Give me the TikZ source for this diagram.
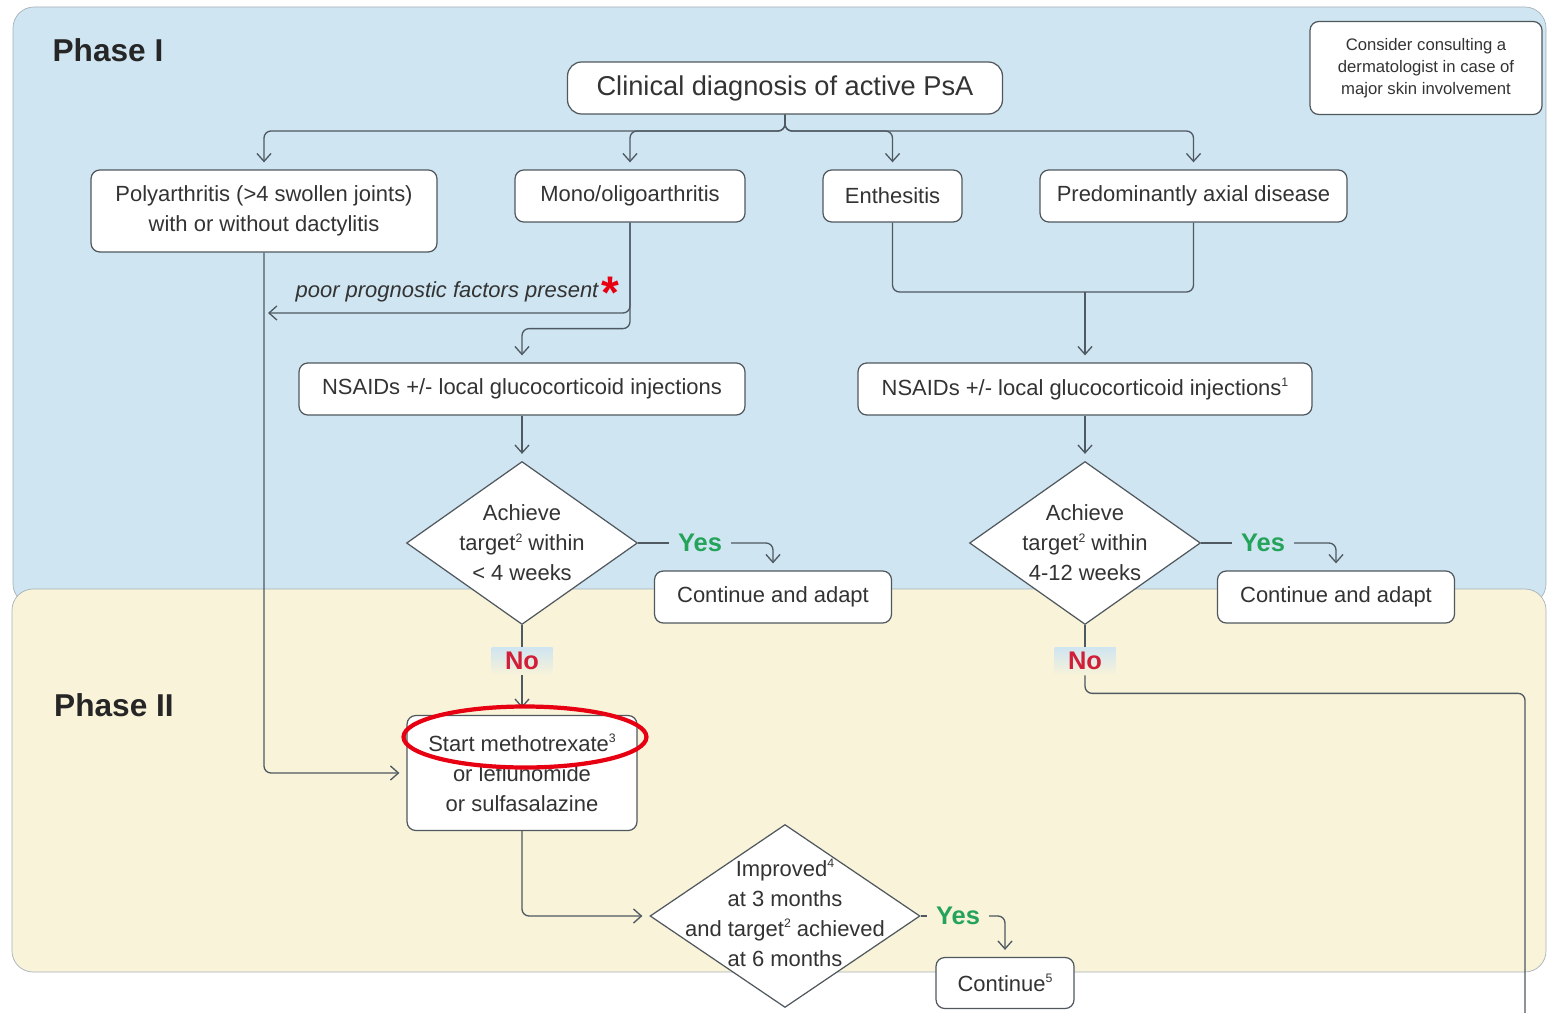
\documentclass[tikz,border=0pt]{standalone}
\usepackage{fontspec}
\setmainfont{Liberation Sans}
\usetikzlibrary{positioning,shapes.geometric,arrows.meta}
\definecolor{phaseblue}{HTML}{CFE5F1}
\definecolor{phasebeige}{HTML}{F8F3D9}
\definecolor{panelline}{HTML}{A7B3BA}
\definecolor{flowline}{HTML}{4E5961}
\definecolor{boxline}{HTML}{50585E}
\definecolor{textgray}{HTML}{333333}
\definecolor{yesgreen}{HTML}{24A35A}
\definecolor{nored}{HTML}{D11F3A}
\definecolor{markred}{HTML}{E60012}
\newcommand{\fnref}[1]{\raisebox{0.75ex}{\fontsize{7}{7}\selectfont #1}}

\begin{document}
\begin{tikzpicture}[x=0.02cm, y=-0.02cm,
  every node/.style={font=\fontsize{12.5}{17}\selectfont, text=textgray},
  box/.style={draw=boxline, fill=white, rounded corners=5pt, line width=0.7pt, align=center, inner sep=0pt, minimum height=1.04cm},
  decision/.style={draw=boxline, fill=white, diamond, line width=0.7pt, inner sep=0pt, minimum width=4.62cm, minimum height=3.26cm},
  dectext/.style={align=center, inner sep=0pt},
  yeslabel/.style={font=\bfseries\fontsize{14.5}{16}\selectfont, text=yesgreen, inner sep=5pt},
  nolabel/.style={font=\bfseries\fontsize{14.5}{16}\selectfont, text=nored, top color=phaseblue, bottom color=phasebeige, minimum width=1.22cm, minimum height=0.56cm, inner sep=0pt},
  phasetitle/.style={font=\bfseries\fontsize{18}{20}\selectfont, text=black!85},
  link/.style={draw=flowline, line width=0.75pt, rounded corners=4pt},
  arr/.style={link, -{Straight Barb[length=4.5pt, width=8pt]}, shorten >=4pt}
]
  % panels
  \useasboundingbox (0,0) rectangle (1547,1013);
  \fill[white] (0,0) rectangle (1547,1013);
  \draw[panelline, fill=phaseblue, rounded corners=12pt] (13,7) rectangle (1546,605);
  \draw[panelline, fill=phasebeige, rounded corners=12pt] (12,589) rectangle (1546,972);
  \node[phasetitle] (ph1) at (108,50) {Phase I};
  \node[phasetitle] (ph2) at (114,705) {Phase II};

  % phase I
  \node[box, font=\fontsize{15.5}{18}\selectfont, rounded corners=8pt, minimum width=8.7cm] (clin) at (785,88) {Clinical diagnosis of active PsA};
  \node[box, font=\fontsize{9.5}{12.5}\selectfont, minimum width=4.64cm, minimum height=1.86cm] (derm) at (1426,68) {Consider consulting a\\dermatologist in case of\\major skin involvement};
  \node[box, minimum width=6.92cm, minimum height=1.64cm] (poly) at (264,211) {Polyarthritis (>4 swollen joints)\\with or without dactylitis};
  \node[box, minimum width=4.6cm] (mono) at (630,196) {Mono/oligoarthritis};
  \node[box, minimum width=2.78cm] (enth) at (892.5,196) {Enthesitis};
  \node[box, minimum width=6.14cm] (axial) at (1193.5,196) {Predominantly axial disease};
  \node[box, minimum width=8.92cm] (nsaid1) at (522,389) {NSAIDs +/- local glucocorticoid injections};
  \node[box, minimum width=9.08cm] (nsaid2) at (1085,389) {NSAIDs +/- local glucocorticoid injections\fnref{1}};
  \node[font=\itshape\fontsize{12.5}{17}\selectfont] (poor) at (447,292) {poor prognostic factors present};
  \node[font=\bfseries\fontsize{26}{26}\selectfont, text=markred, inner sep=0pt] (ast) at (610,293) {*};

  \node[decision] (dec1) at (522,543) {};
  \node[dectext] (dec1txt) at (dec1.center) {Achieve\\target\fnref{2} within\\< 4 weeks};
  \node[decision] (dec2) at (1085,543) {};
  \node[dectext] (dec2txt) at (dec2.center) {Achieve\\target\fnref{2} within\\4-12 weeks};
  \node[yeslabel] (yes1) at (700,543) {Yes};
  \node[yeslabel] (yes2) at (1263,543) {Yes};
  \node[box, minimum width=4.74cm] (cont1) at (773,597) {Continue and adapt};
  \node[box, minimum width=4.74cm] (cont2) at (1336,597) {Continue and adapt};
  \node[nolabel] (no1) at (522,661) {No};
  \node[nolabel] (no2) at (1085,661) {No};

  % phase II
  \node[box, minimum width=4.6cm, minimum height=2.3cm] (mtx) at (522,773) {Start methotrexate\fnref{3}\\or leflunomide\\or sulfasalazine};
  \node[decision, minimum width=5.4cm, minimum height=3.66cm] (dec3) at (785,916) {};
  \node[dectext] (dec3txt) at (785,913) {Improved\fnref{4}\\at 3 months\\and target\fnref{2} achieved\\at 6 months};
  \node[yeslabel] (yes3) at (958,916) {Yes};
  \node[box, minimum width=2.76cm, minimum height=1.02cm] (cont3) at (1005,983) {Continue\fnref{5}};

  % connectors
  \coordinate (split) at (785,131);
  \foreach \n in {poly,mono,enth,axial}
    \draw[arr] (clin.south) -- (split) -| (\n.north);
  \coordinate (poorend) at (268,313);
  \draw[arr, shorten >=0pt] (mono.south) |- (poorend);
  \draw[arr] (mono.south) -- ++(0,106) -| (nsaid1.north);
  \coordinate (merge) at (1085,292);
  \draw[link] (enth.south) |- (merge) -| (axial.south);
  \draw[arr] (merge) -- (nsaid2.north);
  \draw[arr] (nsaid1.south) -- (dec1.north);
  \draw[arr] (nsaid2.south) -- (dec2.north);
  \draw[link] (dec1.east) -- (yes1.west);
  \draw[arr] (yes1.east) -| (cont1.north);
  \draw[link] (dec2.east) -- (yes2.west);
  \draw[arr] (yes2.east) -| (cont2.north);
  \draw[link] (dec1.south) -- (no1.north);
  \draw[arr] (no1.south) -- (mtx.north);
  \draw[link] (dec2.south) -- (no2.north);
  \coordinate (offpage) at (1525,1013);
  \draw[link] (no2.south) -- ++(0,18) -| (offpage);
  \draw[arr] (poly.south) |- (mtx.west);
  \draw[arr] (mtx.south) |- (dec3.west);
  \draw[link] (dec3.east) -- (yes3.west);
  \draw[arr] (yes3.east) -| (cont3.north);

  \draw[markred, line width=2.4pt] (525,737) ellipse [x radius=2.43cm, y radius=0.61cm];
\end{tikzpicture}
\end{document}
